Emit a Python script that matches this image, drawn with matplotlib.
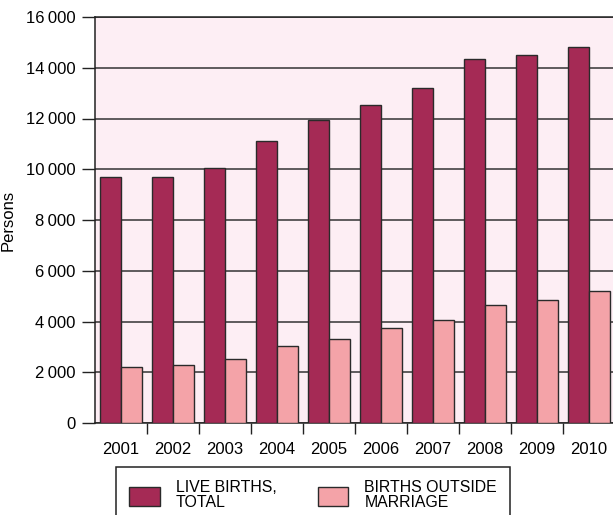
import matplotlib.pyplot as plt
import numpy as np

plt.rcParams['font.family'] = ['Liberation Sans', 'DejaVu Sans']

years = ['2001', '2002', '2003', '2004', '2005', '2006', '2007', '2008', '2009', '2010']
live_births = [9680, 9710, 10060, 11130, 11940, 12540, 13210, 14350, 14500, 14810]
outside_marriage = [2190, 2280, 2530, 3030, 3300, 3750, 4040, 4660, 4860, 5200]
y_ticks = [0, 2000, 4000, 6000, 8000, 10000, 12000, 14000, 16000]
y_tick_labels = ['0', '2\u2009000', '4\u2009000', '6\u2009000', '8\u2009000', '10\u2009000',
                 '12\u2009000', '14\u2009000', '16\u2009000']

W, H = 613, 515
fig = plt.figure(figsize=(W / 100, H / 100), dpi=100)
# plot area runs past the right edge of the picture
ax = fig.add_axes([95 / W, 1 - 423 / H, 520 / W, 406 / H])
ax.set_facecolor('#fdeef4')

x = np.arange(len(years))
bw = 0.404
ax.bar(x - bw / 2, live_births, bw, color='#a52a55', edgecolor='#2a2a2a', linewidth=1,
       label='LIVE BIRTHS,\nTOTAL', zorder=3)
ax.bar(x + bw / 2, outside_marriage, bw, color='#f4a3a8', edgecolor='#2a2a2a', linewidth=1,
       label='BIRTHS OUTSIDE\nMARRIAGE', zorder=3)

ax.set_xlim(-0.5, len(years) - 0.5)
ax.set_ylim(0, 16000)
ax.set_yticks(y_ticks)
ax.set_yticklabels(y_tick_labels, fontsize=12)
ax.set_xticks(x)
ax.set_xticklabels(years, fontsize=12)
ax.set_xticks(np.arange(len(years)) + 0.5, minor=True)
ax.tick_params(axis='x', which='major', length=0, pad=13.5)
ax.tick_params(axis='x', which='minor', length=8, width=1, color='#222222')
ax.tick_params(axis='y', length=9.5, width=1, color='#222222', pad=4.5)
ax.yaxis.grid(True, color='#333333', linewidth=1.1, zorder=0)
ax.set_axisbelow(True)
for s in ['left', 'top', 'bottom']:
    ax.spines[s].set_color('#222222')
    ax.spines[s].set_linewidth(1.1)
ax.spines['right'].set_visible(False)
ax.set_ylabel('Persons', fontsize=12, labelpad=7)

leg = fig.legend(loc='upper left', bbox_to_anchor=(115.5 / W, 1 - 467 / H), ncol=2,
                 fontsize=11.4, frameon=True, fancybox=False, edgecolor='#222222',
                 framealpha=1, borderpad=0.85, handlelength=1.95, handleheight=1.45,
                 handletextpad=1.0, columnspacing=2.6, borderaxespad=0)
leg.get_frame().set_linewidth(1.1)
for t in leg.get_texts():
    t.set_linespacing(1.0)

fig.savefig('out.png', dpi=100)
